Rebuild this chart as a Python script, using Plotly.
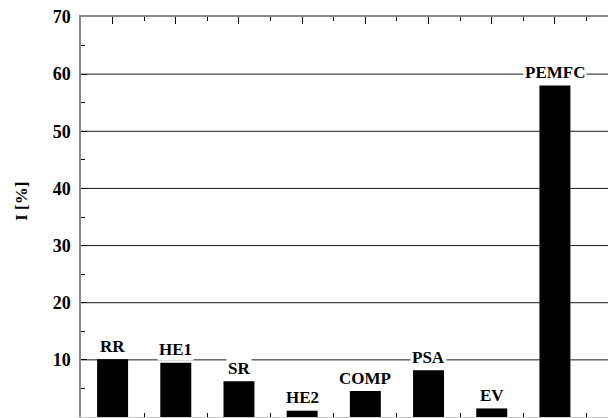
import plotly.graph_objects as go

# Share of each unit in the total, in percent
units = ["RR", "HE1", "SR", "HE2", "COMP", "PSA", "EV", "PEMFC"]
share = [10.1, 9.5, 6.25, 1.1, 4.55, 8.2, 1.5, 58.0]

y_ticks = [0, 10, 20, 30, 40, 50, 60, 70]
grid_levels = [10, 20, 30, 40, 50, 60]

pos = list(range(1, len(units) + 1))
between = [p + 0.5 for p in pos]
x_range = [0.5, 8.84]

FONT = "Liberation Serif"
AXIS_GREY = "#8a8a8a"

fig = go.Figure()

fig.add_trace(go.Bar(
    x=pos, y=share, width=0.49,
    marker=dict(color="black", line=dict(width=0)),
    showlegend=False, hoverinfo="skip",
))

# empty trace so the top axis is drawn
fig.add_trace(go.Scatter(x=[None], y=[None], xaxis="x2", yaxis="y",
                         showlegend=False, hoverinfo="skip"))

# horizontal reference lines
for lv in grid_levels:
    fig.add_shape(type="line", xref="paper", x0=0, x1=1, yref="y", y0=lv, y1=lv,
                  line=dict(color="#1a1a1a", width=1), layer="below")

# unit names above the bars, boxed in white so they break the lines
for p, name, v in zip(pos, units, share):
    fig.add_annotation(
        x=p, y=v, xref="x", yref="y", text="<b>" + name + "</b>", showarrow=False,
        yanchor="middle", yshift=13, bgcolor="white", borderpad=1,
        font=dict(family=FONT, size=17, color="black"),
    )

fig.add_annotation(
    x=-59 / 527, y=0.538, xref="paper", yref="paper", text="<b>I [%]</b>",
    showarrow=False, textangle=-90, xanchor="center", yanchor="middle",
    font=dict(family=FONT, size=17, color="black"),
)

fig.update_layout(
    width=608, height=418,
    margin=dict(l=81, r=0, t=17, b=1, pad=0),
    paper_bgcolor="white", plot_bgcolor="white",
    xaxis=dict(
        range=x_range, showgrid=False, zeroline=False,
        showline=True, linecolor="#c8c8c8", linewidth=1,
        tickmode="array", tickvals=between, ticks="inside", ticklen=4,
        tickcolor="black", tickwidth=1, showticklabels=False,
    ),
    xaxis2=dict(
        overlaying="x", side="top", range=x_range, showgrid=False, zeroline=False,
        showline=True, linecolor=AXIS_GREY, linewidth=1.5,
        tickmode="array", tickvals=pos, ticks="inside", ticklen=7,
        tickcolor="black", tickwidth=1, showticklabels=False,
        minor=dict(tickmode="array", tickvals=between, ticks="inside",
                   ticklen=4, tickcolor="black", tickwidth=1),
    ),
    yaxis=dict(
        range=[0, 70], showgrid=False, zeroline=False,
        showline=True, linecolor=AXIS_GREY, linewidth=1.5,
        tickmode="array", tickvals=y_ticks,
        ticktext=["<b>%d</b>" % t for t in y_ticks],
        ticks="inside", ticklen=6,
        tickcolor="black", tickwidth=1, ticklabelstandoff=5,
        tickfont=dict(family=FONT, size=18, color="black"),
        minor=dict(tickmode="array", tickvals=[5, 15, 25, 35, 45, 55, 65],
                   ticks="inside", ticklen=4, tickcolor="black", tickwidth=1),
    ),
)

fig.write_html("out.html")
